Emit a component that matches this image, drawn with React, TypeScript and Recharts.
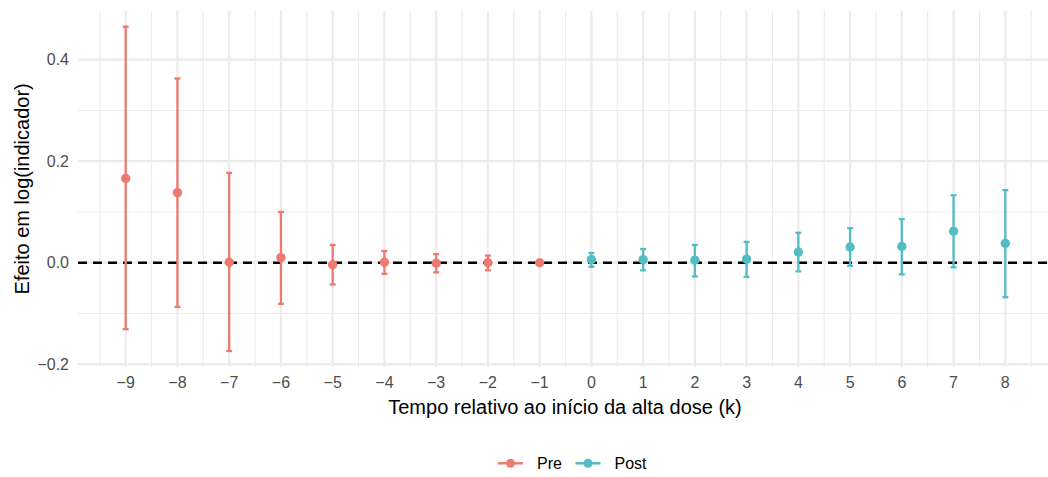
import React from "react";
import {
  ComposedChart,
  Scatter,
  ErrorBar,
  XAxis,
  YAxis,
  CartesianGrid,
  ReferenceLine,
} from "recharts";

// ---- data ----
const relTimePre = [-9, -8, -7, -6, -5, -4, -3, -2, -1];
const estPre = [0.166, 0.138, 0.001, 0.01, -0.004, 0.001, -0.001, 0.0, 0.0];
const lowPre = [-0.131, -0.087, -0.174, -0.081, -0.043, -0.022, -0.019, -0.015, 0.0];
const highPre = [0.465, 0.363, 0.177, 0.1, 0.035, 0.023, 0.017, 0.014, 0.0];

const relTimePost = [0, 1, 2, 3, 4, 5, 6, 7, 8];
const estPost = [0.006, 0.006, 0.005, 0.007, 0.021, 0.031, 0.032, 0.062, 0.038];
const lowPost = [-0.008, -0.015, -0.027, -0.028, -0.017, -0.006, -0.023, -0.009, -0.068];
const highPost = [0.019, 0.027, 0.035, 0.041, 0.059, 0.068, 0.086, 0.133, 0.143];

const xTicks = [-9, -8, -7, -6, -5, -4, -3, -2, -1, 0, 1, 2, 3, 4, 5, 6, 7, 8];
const xMinorTicks = [-9.5, -8.5, -7.5, -6.5, -5.5, -4.5, -3.5, -2.5, -1.5, -0.5, 0.5, 1.5, 2.5, 3.5, 4.5, 5.5, 6.5, 7.5, 8.5];
const yTicks = [-0.2, 0, 0.2, 0.4];
const yMinorTicks = [-0.1, 0.1, 0.3];
const xDomain = [-9.922, 8.825];
const yDomain = [-0.2055, 0.4966];

const seriesNames = ["Pre", "Post"];
const PRE_COLOR = "#EC7A70";
const POST_COLOR = "#53BDC3";

const build = (ks: number[], est: number[], lo: number[], hi: number[]) =>
  ks.map((k, i) => ({ k, est: est[i], err: [est[i] - lo[i], hi[i] - est[i]] }));

const preData = build(relTimePre, estPre, lowPre, highPre);
const postData = build(relTimePost, estPost, lowPost, highPost);

const fmtMinus = (s: string) => s.replace("-", "\u2212");

const FONT = "'Liberation Sans', Arial, sans-serif";

const applyScale = (scale: any, v: number): number => {
  if (!scale) return NaN;
  if (typeof scale === "function") return scale(v);
  if (typeof scale.map === "function") return scale.map(v);
  if (typeof scale.scale === "function") return scale.scale(v);
  return NaN;
};

const dot = (color: string) => (p: any) =>
  <circle cx={p.cx} cy={p.cy} r={4.7} fill={color} />;

const YTitle = (props: any) => {
  const vb = props.viewBox || { x: 0, y: 10.7, width: 78, height: 356 };
  const cx = vb.x + 22;
  const cy = vb.y + vb.height / 2;
  return (
    <text
      x={cx}
      y={cy}
      transform={`rotate(-90 ${cx} ${cy})`}
      textAnchor="middle"
      dominantBaseline="central"
      fontSize={20}
      fill="#000"
      fontFamily={FONT}
    >
      Efeito em log(indicador)
    </text>
  );
};

const XTitle = (props: any) => {
  const vb = props.viewBox || { x: 78, y: 367, width: 970, height: 50 };
  return (
    <text
      x={vb.x + vb.width / 2 + 2}
      y={vb.y + 40}
      textAnchor="middle"
      dominantBaseline="central"
      fontSize={20}
      fill="#000"
      fontFamily={FONT}
    >
      Tempo relativo ao início da alta dose (k)
    </text>
  );
};

export default function App() {
  return (
    <div
      style={{
        position: "absolute",
        left: 0,
        top: 0,
        width: 1048,
        height: 477,
        background: "#fff",
        overflow: "hidden",
        fontFamily: FONT,
      }}
    >
      <ComposedChart
        width={1048}
        height={477}
        margin={{ top: 10.7, right: 0, bottom: 60, left: 0 }}
      >
        <XAxis
          xAxisId="main"
          type="number"
          dataKey="k"
          domain={xDomain}
          ticks={xTicks}
          interval={0}
          height={50}
          tickSize={0}
          tickMargin={10}
          axisLine={false}
          tickLine={false}
          tick={{ fontSize: 16, fill: "#4D4D4D" }}
          tickFormatter={(v: number) => fmtMinus(String(v))}
          label={{ content: XTitle }}
        />
        <YAxis
          yAxisId="main"
          type="number"
          domain={yDomain}
          ticks={yTicks}
          interval={0}
          width={78}
          tickSize={0}
          tickMargin={9}
          axisLine={false}
          tickLine={false}
          tick={{ fontSize: 16, fill: "#4D4D4D" }}
          tickFormatter={(v: number) => fmtMinus(v.toFixed(1))}
          label={{ content: YTitle }}
        />
        <CartesianGrid
          xAxisId="main"
          yAxisId="main"
          stroke="#EBEBEB"
          strokeWidth={1.1}
          horizontalCoordinatesGenerator={(p: any) =>
            yMinorTicks.map((v) => applyScale(p?.yAxis?.scale, v))
          }
          verticalCoordinatesGenerator={(p: any) =>
            xMinorTicks.map((v) => applyScale(p?.xAxis?.scale, v))
          }
        />
        <CartesianGrid
          xAxisId="main"
          yAxisId="main"
          stroke="#EBEBEB"
          strokeWidth={2.2}
          syncWithTicks
        />
        <ReferenceLine
          xAxisId="main"
          yAxisId="main"
          y={0}
          stroke="#000"
          strokeWidth={2.5}
          strokeDasharray="9 6"
        />
        <Scatter
          name={seriesNames[0]}
          xAxisId="main"
          yAxisId="main"
          data={preData}
          dataKey="est"
          fill={PRE_COLOR}
          shape={dot(PRE_COLOR)}
          isAnimationActive={false}
        >
          <ErrorBar
            dataKey="err"
            direction="y"
            width={3}
            stroke={PRE_COLOR}
            strokeWidth={2.3}
            isAnimationActive={false}
          />
        </Scatter>
        <Scatter
          name={seriesNames[1]}
          xAxisId="main"
          yAxisId="main"
          data={postData}
          dataKey="est"
          fill={POST_COLOR}
          shape={dot(POST_COLOR)}
          isAnimationActive={false}
        >
          <ErrorBar
            dataKey="err"
            direction="y"
            width={3}
            stroke={POST_COLOR}
            strokeWidth={2.3}
            isAnimationActive={false}
          />
        </Scatter>
      </ComposedChart>
      <svg
        width={1048}
        height={30}
        style={{ position: "absolute", left: 0, top: 448 }}
      >
        {[
          { name: seriesNames[0], color: PRE_COLOR, x: 498 },
          { name: seriesNames[1], color: POST_COLOR, x: 575.5 },
        ].map((it) => (
          <g key={it.name}>
            <line x1={it.x} x2={it.x + 25} y1={15.3} y2={15.3} stroke={it.color} strokeWidth={2.5} />
            <circle cx={it.x + 12.5} cy={15.3} r={4.5} fill={it.color} />
            <text
              x={it.x + 39}
              y={15.3}
              dominantBaseline="central"
              fontSize={16}
              fill="#000"
              fontFamily={FONT}
            >
              {it.name}
            </text>
          </g>
        ))}
      </svg>
    </div>
  );
}
